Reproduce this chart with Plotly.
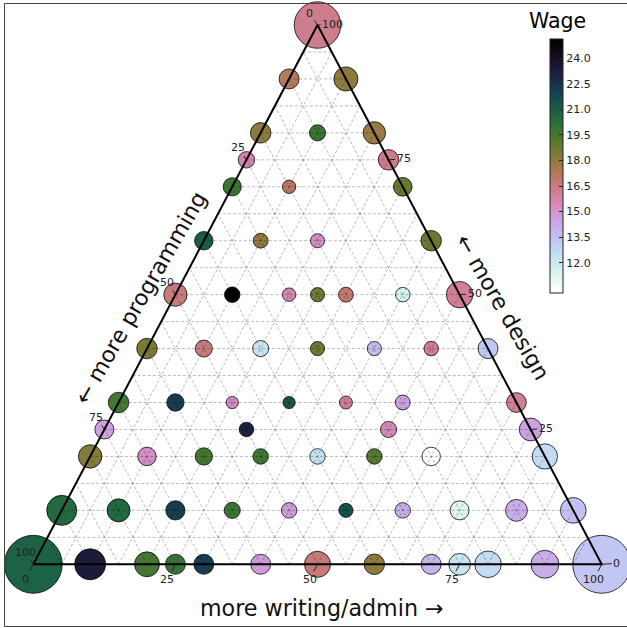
import math
import plotly.graph_objects as go

# ---- data: composition (% design, % writing/admin; programming = rest), wage, respondents
design = [100,
          90, 90,
          80, 80, 80,
          75, 75,
          70, 70, 70,
          60, 60, 60, 60,
          50, 50, 50, 50, 50, 50, 50,
          40, 40, 40, 40, 40, 40, 40,
          30, 30, 30, 30, 30, 30, 30,
          25, 25, 25, 25,
          20, 20, 20, 20, 20, 20, 20, 20,
          10, 10, 10, 10, 10, 10, 10, 10, 10, 10,
          0, 0, 0, 0, 0, 0, 0, 0, 0, 0, 0, 0, 0]
writing = [0,
           0, 10,
           0, 10, 20,
           0, 25,
           0, 10, 30,
           0, 10, 20, 40,
           0, 10, 20, 25, 30, 40, 50,
           0, 10, 20, 30, 40, 50, 60,
           0, 10, 20, 30, 40, 50, 70,
           0, 25, 50, 75,
           0, 10, 20, 30, 40, 50, 60, 80,
           0, 10, 20, 30, 40, 50, 60, 70, 80, 90,
           0, 10, 20, 25, 30, 40, 50, 60, 70, 75, 80, 90, 100]
wage = [16.3,
        17.2, 18.0,
        18.0, 19.7, 17.8,
        15.7, 16.4,
        19.7, 17.0, 18.8,
        21.0, 18.0, 15.2, 18.8,
        16.6, 25.1, 15.5, 18.6, 16.8, 11.5, 16.1,
        18.4, 16.6, 12.2, 18.6, 13.6, 16.1, 13.2,
        19.5, 22.1, 15.2, 21.3, 16.1, 14.5, 16.1,
        14.5, 23.0, 15.4, 14.5,
        18.2, 15.2, 19.5, 19.6, 12.4, 19.1, 10.2, 12.5,
        20.5, 20.5, 22.1, 19.7, 14.7, 21.4, 14.1, 11.2, 14.1, 13.5,
        20.8, 23.3, 19.5, 19.8, 22.1, 14.7, 16.7, 18.0, 13.9, 12.2, 12.5, 14.1, 13.3]
respondents = [21.7,
               4.0, 5.8,
               4.2, 2.6, 5.0,
               2.7, 4.2,
               3.3, 1.8, 3.5,
               3.4, 2.2, 2.0, 4.2,
               5.4, 2.4, 1.8, 2.0, 2.2, 2.1, 7.0,
               4.2, 2.9, 2.6, 2.0, 2.0, 2.1, 4.0,
               4.2, 3.0, 1.5, 1.5, 1.7, 2.2, 3.9,
               3.6, 2.1, 2.6, 5.2,
               5.5, 3.4, 3.0, 2.4, 2.4, 2.4, 3.4, 6.4,
               9.0, 5.3, 3.7, 2.6, 2.4, 2.0, 2.4, 3.6, 4.8, 6.6,
               33.6, 9.6, 6.2, 4.0, 4.0, 4.0, 6.8, 4.2, 4.0, 4.7, 7.1, 7.8, 33.6]

tick_values = [0, 25, 50, 75, 100]
cbar_ticks = [12.0, 13.5, 15.0, 16.5, 18.0, 19.5, 21.0, 22.5, 24.0]
grid_step = 5

FONT = "DejaVu Sans"


def proj(d, w):
    """ternary (design %, writing %) -> cartesian"""
    return w / 100.0 + d / 200.0, d / 100.0


def cubehelix(x, gamma=1.0, s=0.5, r=-1.5, h=1.0):
    xg = x ** gamma
    a = h * xg * (1 - xg) / 2
    phi = 2 * math.pi * (s / 3 + r * x)
    R = xg + a * (-0.14861 * math.cos(phi) + 1.78277 * math.sin(phi))
    G = xg + a * (-0.29227 * math.cos(phi) - 0.90649 * math.sin(phi))
    B = xg + a * (1.97294 * math.cos(phi))
    c = [min(1, max(0, v)) for v in (R, G, B)]
    return "rgb(%d,%d,%d)" % tuple(round(v * 255) for v in c)


n_stops = 41
colorscale = [[i / (n_stops - 1), cubehelix(1 - i / (n_stops - 1))] for i in range(n_stops)]

px_, py_ = zip(*[proj(d, w) for d, w in zip(design, writing)])

fig = go.Figure()

# points
fig.add_trace(go.Scatter(
    x=px_, y=py_, mode="markers", hoverinfo="skip",
    marker=dict(
        size=respondents, sizemode="area", sizeref=0.02,
        color=wage, colorscale=colorscale, opacity=1,
        line=dict(color="rgba(0,0,0,0.75)", width=1),
        showscale=True,
        colorbar=dict(
            x=550 / 627, xanchor="left", xpad=0,
            y=1 - 39.4 / 628, yanchor="top", ypad=0,
            len=254, lenmode="pixels", thickness=13, thicknessmode="pixels",
            outlinewidth=1, outlinecolor="#222",
            tickvals=cbar_ticks, ticktext=["%.1f" % t for t in cbar_ticks],
            ticks="inside", ticklen=4, tickcolor="#222",
            tickfont=dict(size=11, color="#222", family=FONT),
        ),
    ),
))

# dashed grid (drawn over the points, semi-transparent)
gx, gy = [], []
for k in range(grid_step, 100, grid_step):
    for (d0, w0), (d1, w1) in [((k, 0), (k, 100 - k)),
                               ((0, k), (100 - k, k)),
                               ((0, 100 - k), (100 - k, 0))]:
        x0, y0 = proj(d0, w0)
        x1, y1 = proj(d1, w1)
        gx += [x0, x1, None]
        gy += [y0, y1, None]
fig.add_trace(go.Scatter(x=gx, y=gy, mode="lines", hoverinfo="skip",
                         line=dict(color="rgba(0,0,0,0.27)", width=1, dash="3px,2px")))

# triangle boundary
corners = [proj(0, 0), proj(0, 100), proj(100, 0), proj(0, 0)]
fig.add_trace(go.Scatter(x=[c[0] for c in corners], y=[c[1] for c in corners],
                         mode="lines", hoverinfo="skip",
                         line=dict(color="black", width=2)))

annotations = []
tick_style = dict(showarrow=True, arrowhead=0, arrowwidth=1, arrowcolor="#222",
                  standoff=0, font=dict(size=11, color="#222", family=FONT),
                  xref="x", yref="y")
for v in tick_values:
    # left edge: programming
    x, y = proj(100 - v, 0)
    annotations.append(dict(x=x, y=y, text=str(v), ax=-8, ay=-12, **tick_style))
    # bottom edge: writing/admin
    x, y = proj(0, v)
    annotations.append(dict(x=x, y=y, text=str(v), ax=-8, ay=15, **tick_style))
    # right edge: design
    x, y = proj(v, 100 - v)
    annotations.append(dict(x=x, y=y, text=str(v), ax=15, ay=-1, **tick_style))

title_font = dict(size=22.2, color="#111", family=FONT)
annotations += [
    dict(text="more writing/admin →", x=322 / 627, y=1 - 608 / 628, xref="paper", yref="paper",
         showarrow=False, font=title_font, xanchor="center", yanchor="middle"),
    dict(text="← more programming", x=140 / 627, y=1 - 298 / 628, xref="paper", yref="paper",
         showarrow=False, font=title_font, textangle=-60, xanchor="center", yanchor="middle"),
    dict(text="← more design", x=503 / 627, y=1 - 307 / 628, xref="paper", yref="paper",
         showarrow=False, font=title_font, textangle=60, xanchor="center", yanchor="middle"),
    dict(text="Wage", x=557 / 627, y=1 - 21 / 628, xref="paper", yref="paper",
         showarrow=False, font=dict(size=20.5, color="#000", family=FONT),
         xanchor="center", yanchor="middle"),
]

fig.update_layout(
    width=627, height=628,
    margin=dict(l=0, r=0, t=0, b=0),
    paper_bgcolor="white", plot_bgcolor="white",
    showlegend=False,
    xaxis=dict(visible=False, range=[-33.3 / 568.4, (627 - 33.3) / 568.4], fixedrange=True),
    yaxis=dict(visible=False, range=[(564.3 - 628) / 539.3, 564.3 / 539.3], fixedrange=True),
    annotations=annotations,
    shapes=[dict(type="rect", xref="paper", yref="paper",
                 x0=4.5 / 627, x1=1.02, y0=(628 - 626.5) / 628, y1=(628 - 3.5) / 628,
                 line=dict(color="#444", width=1), layer="above")],
)

fig.write_html("out.html", config={"displayModeBar": False},
               post_script="document.body.style.margin='0';document.body.style.overflow='hidden';")
